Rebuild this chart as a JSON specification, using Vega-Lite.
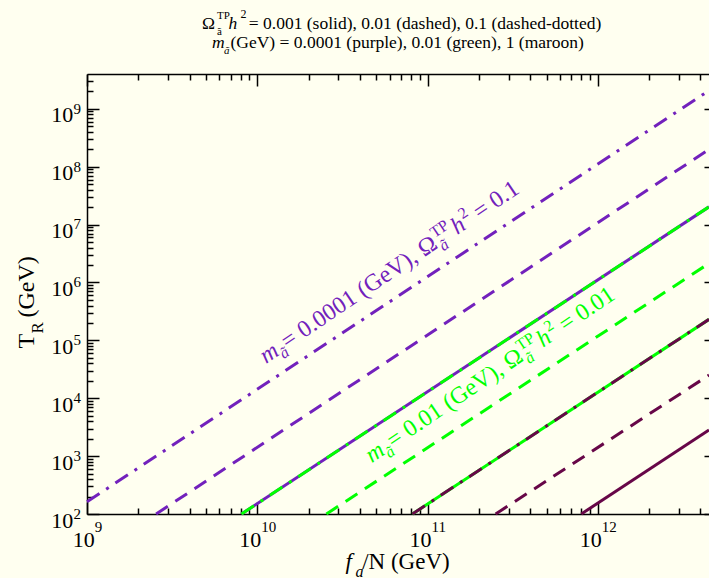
{
  "$schema": "https://vega.github.io/schema/vega-lite/v6.json",
  "width": 622,
  "height": 440,
  "autosize": {"type": "none"},
  "padding": {"left": 87, "top": 74, "right": 0, "bottom": 64},
  "background": "#FFFFF0",
  "config": {
    "view": {"stroke": null},
    "axis": {
      "grid": false,
      "domainColor": "black",
      "tickColor": "black",
      "labelColor": "black",
      "titleColor": "black",
      "labelFont": "Liberation Serif",
      "titleFont": "Liberation Serif",
      "titleFontWeight": "normal",
      "titleAlign": "left",
      "titleBaseline": "alphabetic",
      "labelFlush": false,
      "labelOverlap": false,
      "labelBound": false,
      "tickWidth": 1.5,
      "domainWidth": 1.5
    }
  },
  "datasets": {
    "lines": [
      {"f": 1e9, "T": 162.2, "mass": "0.0001", "omega": "0.1"},
      {"f": 4.5e12, "T": 2.070e9, "mass": "0.0001", "omega": "0.1"},
      {"f": 2.547e9, "T": 100, "mass": "0.0001", "omega": "0.01"},
      {"f": 4.5e12, "T": 1.995e8, "mass": "0.0001", "omega": "0.01"},
      {"f": 8.072e9, "T": 100, "mass": "0.0001", "omega": "0.001"},
      {"f": 4.5e12, "T": 2.028e7, "mass": "0.0001", "omega": "0.001"},
      {"f": 8.072e9, "T": 100, "mass": "0.01", "omega": "0.1"},
      {"f": 4.5e12, "T": 2.028e7, "mass": "0.01", "omega": "0.1"},
      {"f": 2.547e10, "T": 100, "mass": "0.01", "omega": "0.01"},
      {"f": 4.5e12, "T": 2.138e6, "mass": "0.01", "omega": "0.01"},
      {"f": 8.147e10, "T": 100, "mass": "0.01", "omega": "0.001"},
      {"f": 4.5e12, "T": 2.307e5, "mass": "0.01", "omega": "0.001"},
      {"f": 8.147e10, "T": 100, "mass": "1", "omega": "0.1"},
      {"f": 4.5e12, "T": 2.307e5, "mass": "1", "omega": "0.1"},
      {"f": 2.512e11, "T": 100, "mass": "1", "omega": "0.01"},
      {"f": 4.5e12, "T": 2.512e4, "mass": "1", "omega": "0.01"},
      {"f": 7.998e11, "T": 100, "mass": "1", "omega": "0.001"},
      {"f": 4.5e12, "T": 2818, "mass": "1", "omega": "0.001"}
    ],
    "labels": [
      {"f": 1.125e10, "T": 3.905e4, "mass": "0.0001", "part": "italic", "txt": "m"},
      {"f": 1.366e10, "T": 5.735e4, "mass": "0.0001", "part": "sub", "txt": "ã"},
      {"f": 1.506e10, "T": 6.962e4, "mass": "0.0001", "part": "main", "txt": "= 0.0001 (GeV), Ω"},
      {"f": 1.185e11, "T": 4.173e6, "mass": "0.0001", "part": "sup", "txt": "TP"},
      {"f": 1.185e11, "T": 4.173e6, "mass": "0.0001", "part": "sub", "txt": "ã"},
      {"f": 1.495e11, "T": 6.614e6, "mass": "0.0001", "part": "italic", "txt": "h"},
      {"f": 1.729e11, "T": 8.835e6, "mass": "0.0001", "part": "sup", "txt": "2"},
      {"f": 2.024e11, "T": 1.206e7, "mass": "0.0001", "part": "main", "txt": "= 0.1"},
      {"f": 4.700e10, "T": 751.6, "mass": "0.01", "part": "italic", "txt": "m"},
      {"f": 5.706e10, "T": 1104, "mass": "0.01", "part": "sub", "txt": "ã"},
      {"f": 6.293e10, "T": 1340, "mass": "0.01", "part": "main", "txt": "= 0.01 (GeV), Ω"},
      {"f": 3.783e11, "T": 4.710e4, "mass": "0.01", "part": "sup", "txt": "TP"},
      {"f": 3.783e11, "T": 4.710e4, "mass": "0.01", "part": "sub", "txt": "ã"},
      {"f": 4.771e11, "T": 7.464e4, "mass": "0.01", "part": "italic", "txt": "h"},
      {"f": 5.521e11, "T": 9.966e4, "mass": "0.01", "part": "sup", "txt": "2"},
      {"f": 6.458e11, "T": 1.361e5, "mass": "0.01", "part": "main", "txt": "= 0.01"}
    ]
  },
  "resolve": {"axis": {"x": "independent", "y": "independent"}},
  "layer": [
    {
      "data": {"name": "lines"},
      "transform": [{"filter": "datum.omega === '0.001'"}],
      "mark": {"type": "line", "strokeWidth": 3, "strokeCap": "butt"},
      "encoding": {
        "x": {
          "field": "f", "type": "quantitative",
          "scale": {"type": "log", "domain": [1e9, 4.5e12], "nice": false},
          "axis": {
            "orient": "bottom",
            "values": [1e9, 2e9, 3e9, 4e9, 5e9, 6e9, 7e9, 8e9, 9e9, 1e10, 2e10, 3e10, 4e10, 5e10, 6e10, 7e10, 8e10, 9e10, 1e11, 2e11, 3e11, 4e11, 5e11, 6e11, 7e11, 8e11, 9e11, 1e12, 2e12, 3e12, 4e12],
            "labels": false,
            "tickSize": {"condition": {"test": "abs(log(datum.value) / LN10 - round(log(datum.value) / LN10)) < 0.001", "value": -12}, "value": -6},
            "domain": true,
            "title": "f",
            "titleFontStyle": "italic",
            "titleFontSize": 23,
            "titleX": 258,
            "titleY": 54
          }
        },
        "y": {
          "field": "T", "type": "quantitative",
          "scale": {"type": "log", "domain": [100, 4e9], "nice": false},
          "axis": {
            "orient": "left",
            "values": [100, 200, 300, 400, 500, 600, 700, 800, 900, 1000, 2000, 3000, 4000, 5000, 6000, 7000, 8000, 9000, 1e4, 2e4, 3e4, 4e4, 5e4, 6e4, 7e4, 8e4, 9e4, 1e5, 2e5, 3e5, 4e5, 5e5, 6e5, 7e5, 8e5, 9e5, 1e6, 2e6, 3e6, 4e6, 5e6, 6e6, 7e6, 8e6, 9e6, 1e7, 2e7, 3e7, 4e7, 5e7, 6e7, 7e7, 8e7, 9e7, 1e8, 2e8, 3e8, 4e8, 5e8, 6e8, 7e8, 8e8, 9e8, 1e9, 2e9, 3e9],
            "labels": false,
            "tickSize": {"condition": {"test": "abs(log(datum.value) / LN10 - round(log(datum.value) / LN10)) < 0.001", "value": -12}, "value": -6},
            "domain": true,
            "title": "T",
            "titleFontSize": 24,
            "titleAngle": 270,
            "titleX": -54,
            "titleY": 274
          }
        },
        "color": {
          "field": "mass", "type": "nominal",
          "scale": {"domain": ["0.0001", "0.01", "1"], "range": ["#7221BC", "#00FF00", "#670748"]},
          "legend": null
        }
      }
    },
    {
      "data": {"name": "lines"},
      "transform": [{"filter": "datum.omega === '0.01'"}],
      "mark": {"type": "line", "strokeWidth": 3, "strokeCap": "butt", "strokeDash": [14, 9]},
      "encoding": {
        "x": {
          "field": "f", "type": "quantitative",
          "scale": {"type": "log", "domain": [1e9, 4.5e12], "nice": false},
          "axis": {
            "orient": "bottom",
            "values": [1e9, 1e10, 1e11, 1e12],
            "ticks": false,
            "domain": false,
            "labelExpr": "'10'",
            "labelAlign": "right",
            "labelBaseline": "alphabetic",
            "labelPadding": 32.7,
            "labelFontSize": 22,
            "labelOffset": {"condition": {"test": "datum.value >= 1e10", "value": 3.5}, "value": 7.25},
            "title": "a",
            "titleFontStyle": "italic",
            "titleFontSize": 16,
            "titleX": 268,
            "titleY": 62
          }
        },
        "y": {
          "field": "T", "type": "quantitative",
          "scale": {"type": "log", "domain": [100, 4e9], "nice": false},
          "axis": {
            "orient": "left",
            "values": [100, 1000, 1e4, 1e5, 1e6, 1e7, 1e8, 1e9],
            "ticks": false,
            "domain": false,
            "labelExpr": "'10'",
            "labelAlign": "right",
            "labelBaseline": "alphabetic",
            "labelPadding": 14.3,
            "labelOffset": 13,
            "labelFontSize": 22,
            "title": "R",
            "titleFontSize": 17,
            "titleAngle": 270,
            "titleX": -45,
            "titleY": 259
          }
        },
        "color": {"field": "mass", "type": "nominal", "legend": null}
      }
    },
    {
      "data": {"name": "lines"},
      "transform": [{"filter": "datum.omega === '0.1'"}],
      "mark": {"type": "line", "strokeWidth": 3, "strokeCap": "butt", "strokeDash": [15, 8, 3, 8]},
      "encoding": {
        "x": {
          "field": "f", "type": "quantitative",
          "scale": {"type": "log", "domain": [1e9, 4.5e12], "nice": false},
          "axis": {
            "orient": "bottom",
            "values": [1e9, 1e10, 1e11, 1e12],
            "ticks": false,
            "domain": false,
            "labelExpr": "'' + round(log(datum.value) / LN10)",
            "labelAlign": "left",
            "labelBaseline": "alphabetic",
            "labelPadding": 17.7,
            "labelFontSize": 15,
            "labelOffset": {"condition": {"test": "datum.value >= 1e10", "value": 3.5}, "value": 7.25},
            "title": "/N (GeV)",
            "titleFontSize": 23,
            "titleX": 274.7,
            "titleY": 54
          }
        },
        "y": {
          "field": "T", "type": "quantitative",
          "scale": {"type": "log", "domain": [100, 4e9], "nice": false},
          "axis": {
            "orient": "left",
            "values": [100, 1000, 1e4, 1e5, 1e6, 1e7, 1e8, 1e9],
            "ticks": false,
            "domain": false,
            "labelExpr": "'' + round(log(datum.value) / LN10)",
            "labelAlign": "left",
            "labelBaseline": "alphabetic",
            "labelPadding": 14,
            "labelOffset": 4.3,
            "labelFontSize": 15,
            "title": "(GeV)",
            "titleFontSize": 24,
            "titleAngle": 270,
            "titleX": -54,
            "titleY": 243
          }
        },
        "color": {"field": "mass", "type": "nominal", "legend": null}
      }
    },
    {
      "data": {"name": "labels"},
      "transform": [{"filter": "datum.part === 'main'"}],
      "mark": {"type": "text", "font": "Liberation Serif", "fontSize": 24, "angle": 326, "align": "left", "baseline": "alphabetic"},
      "encoding": {
        "x": {
          "field": "f", "type": "quantitative",
          "scale": {"type": "log", "domain": [1e9, 4.5e12], "nice": false},
          "axis": {
            "orient": "top",
            "values": [1e9, 2e9, 3e9, 4e9, 5e9, 6e9, 7e9, 8e9, 9e9, 1e10, 2e10, 3e10, 4e10, 5e10, 6e10, 7e10, 8e10, 9e10, 1e11, 2e11, 3e11, 4e11, 5e11, 6e11, 7e11, 8e11, 9e11, 1e12, 2e12, 3e12, 4e12],
            "labels": false,
            "tickSize": {"condition": {"test": "abs(log(datum.value) / LN10 - round(log(datum.value) / LN10)) < 0.001", "value": -12}, "value": -6},
            "domain": true,
            "title": "= 0.001 (solid), 0.01 (dashed), 0.1 (dashed-dotted)",
            "titleFontSize": 17.5,
            "titleAngle": 0,
            "titleX": 161.3,
            "titleY": -45.5
          }
        },
        "y": {
          "field": "T", "type": "quantitative",
          "scale": {"type": "log", "domain": [100, 4e9], "nice": false},
          "axis": {
            "orient": "right",
            "values": [100, 1000, 1e4, 1e5, 1e6, 1e7, 1e8, 1e9],
            "labels": false,
            "tickSize": -5,
            "domain": false,
            "title": "(GeV) = 0.0001 (purple), 0.01 (green), 1 (maroon)",
            "titleFontSize": 17.5,
            "titleAngle": 0,
            "titleX": -479,
            "titleY": -26.5
          }
        },
        "text": {"field": "txt"},
        "color": {"field": "mass", "type": "nominal", "legend": null}
      }
    },
    {
      "data": {"name": "labels"},
      "transform": [{"filter": "datum.part === 'italic'"}],
      "mark": {"type": "text", "font": "Liberation Serif", "fontSize": 24, "fontStyle": "italic", "angle": 326, "align": "left", "baseline": "alphabetic"},
      "encoding": {
        "x": {
          "field": "f", "type": "quantitative",
          "scale": {"type": "log", "domain": [1e9, 4.5e12], "nice": false},
          "axis": {
            "orient": "top", "ticks": false, "labels": false, "domain": false,
            "title": "Ω",
            "titleFontSize": 17.5,
            "titleAngle": 0,
            "titleX": 114.5,
            "titleY": -45.5
          }
        },
        "y": {
          "field": "T", "type": "quantitative",
          "scale": {"type": "log", "domain": [100, 4e9], "nice": false},
          "axis": {
            "orient": "left", "ticks": false, "labels": false, "domain": false,
            "title": "m",
            "titleFontStyle": "italic",
            "titleFontSize": 17.5,
            "titleAngle": 0,
            "titleX": 124.5,
            "titleY": -26.5
          }
        },
        "text": {"field": "txt"},
        "color": {"field": "mass", "type": "nominal", "legend": null}
      }
    },
    {
      "data": {"name": "labels"},
      "transform": [{"filter": "datum.part === 'sub'"}],
      "mark": {"type": "text", "font": "Liberation Serif", "fontSize": 16, "fontStyle": "italic", "angle": 326, "align": "left", "baseline": "alphabetic", "dy": 6},
      "encoding": {
        "x": {
          "field": "f", "type": "quantitative",
          "scale": {"type": "log", "domain": [1e9, 4.5e12], "nice": false},
          "axis": {
            "orient": "top", "ticks": false, "labels": false, "domain": false,
            "title": ["TP", "ã"],
            "titleFontSize": 11,
            "titleLineHeight": 16,
            "titleAngle": 0,
            "titleX": 129.5,
            "titleY": -55.3
          }
        },
        "y": {
          "field": "T", "type": "quantitative",
          "scale": {"type": "log", "domain": [100, 4e9], "nice": false},
          "axis": {
            "orient": "left", "ticks": false, "labels": false, "domain": false,
            "title": "ã",
            "titleFontStyle": "italic",
            "titleFontSize": 11,
            "titleAngle": 0,
            "titleX": 136.5,
            "titleY": -21
          }
        },
        "text": {"field": "txt"},
        "color": {"field": "mass", "type": "nominal", "legend": null}
      }
    },
    {
      "data": {"name": "labels"},
      "transform": [{"filter": "datum.part === 'sup'"}],
      "mark": {"type": "text", "font": "Liberation Serif", "fontSize": 16, "angle": 326, "align": "left", "baseline": "alphabetic", "dy": -10},
      "encoding": {
        "x": {
          "field": "f", "type": "quantitative",
          "scale": {"type": "log", "domain": [1e9, 4.5e12], "nice": false},
          "axis": {
            "orient": "top", "ticks": false, "labels": false, "domain": false,
            "title": "h",
            "titleFontStyle": "italic",
            "titleFontSize": 17.5,
            "titleAngle": 0,
            "titleX": 141,
            "titleY": -45.5
          }
        },
        "y": {
          "field": "T", "type": "quantitative",
          "scale": {"type": "log", "domain": [100, 4e9], "nice": false},
          "axis": {
            "orient": "left", "ticks": false, "labels": false, "domain": false,
            "title": "2",
            "titleFontSize": 12,
            "titleAngle": 0,
            "titleX": 153,
            "titleY": -56.7
          }
        },
        "text": {"field": "txt"},
        "color": {"field": "mass", "type": "nominal", "legend": null}
      }
    }
  ]
}
